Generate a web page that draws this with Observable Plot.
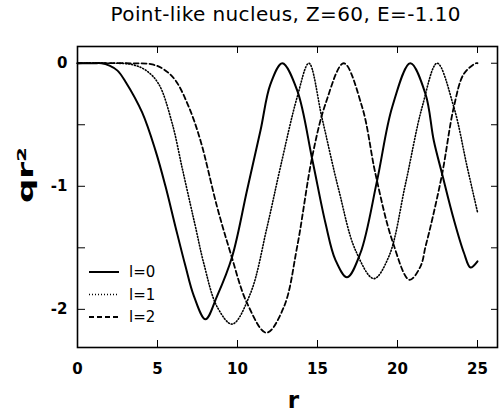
<!DOCTYPE html>
<html><head><meta charset="utf-8">
<script src="https://cdn.jsdelivr.net/npm/d3@7"></script>
<script src="https://cdn.jsdelivr.net/npm/@observablehq/plot@0.6"></script>
<style>html,body{margin:0;padding:0;background:#fff;} #chart{width:499px;height:413px;}</style>
</head><body><div id="chart"></div>
<script>
const title = "Point-like nucleus, Z=60, E=-1.10";
const seriesNames = ["l=0", "l=1", "l=2"];

const r0 = [0, 1, 1.5, 2.0, 2.5, 3.0, 4.04, 4.875, 5.5, 6.125, 6.75, 7.27, 8.0, 8.73, 9.67, 10.6, 11.44, 12.06, 12.8, 13.73, 14.67, 15.5, 16.125, 16.85, 17.69, 18.73, 19.67, 20.8, 21.75, 22.27, 22.79, 23.52, 24.15, 24.56, 25];
const q0 = [0, 0, 0, -0.02, -0.06, -0.15, -0.40, -0.71, -1.0, -1.33, -1.65, -1.89, -2.08, -1.89, -1.57, -1.03, -0.545, -0.17, 0, -0.22, -0.78, -1.30, -1.60, -1.74, -1.54, -0.95, -0.356, 0, -0.25, -0.63, -0.9, -1.27, -1.54, -1.66, -1.61];

const r1 = [0, 2, 3.4, 4.3, 5.08, 5.92, 6.54, 7.06, 7.375, 7.9, 8.73, 9.67, 10.81, 11.85, 12.69, 13.73, 14.46, 15.29, 16.33, 17.375, 18.52, 19.46, 20.5, 21.54, 22.48, 23.52, 24.35, 25];
const q1 = [0, 0, -0.01, -0.06, -0.17, -0.49, -0.85, -1.15, -1.33, -1.63, -1.98, -2.12, -1.87, -1.33, -0.84, -0.275, 0, -0.45, -1.03, -1.52, -1.75, -1.57, -0.98, -0.356, 0, -0.356, -0.84, -1.21];

const r2 = [0, 3, 4.67, 5.4, 6.125, 6.96, 7.69, 8.73, 9.56, 10.6, 11.81, 12.9, 13.73, 14.67, 15.5, 16.64, 17.79, 18.625, 19.67, 20.75, 21.44, 21.75, 22.06, 22.79, 23.52, 24.15, 24.9, 25];
const q2 = [0, 0, -0.01, -0.05, -0.14, -0.356, -0.63, -1.17, -1.54, -1.95, -2.19, -1.98, -1.49, -0.76, -0.33, 0, -0.356, -0.9, -1.44, -1.76, -1.65, -1.49, -1.33, -0.9, -0.356, -0.086, 0, 0];

const xTicks = [0, 5, 10, 15, 20, 25];
const yTicks = [0, -0.5, -1, -1.5, -2];
const yTickLabels = {"0": "0", "-1": "-1", "-2": "-2"};
const xLabel = "r";
const yLabel = "qr²";

const series = [[r0, q0], [r1, q1], [r2, q2]];
const rows = series.flatMap(([rs, qs], i) => rs.map((r, j) => ({r, q: qs[j], l: seriesNames[i]})));
const styles = [
  {dash: null, width: 2},
  {dash: "1,2", width: 1.6},
  {dash: "5,3", width: 1.8}
];

const lines = seriesNames.map((name, i) => Plot.line(rows.filter(d => d.l === name), {
  x: "r", y: "q", curve: "catmull-rom", stroke: "black",
  strokeWidth: styles[i].width, strokeDasharray: styles[i].dash
}));

const chart = Plot.plot({
  width: 499, height: 413,
  marginLeft: 77, marginRight: 2, marginTop: 46, marginBottom: 66,
  style: {fontFamily: "DejaVu Sans", fontSize: "15px", fontWeight: "bold", color: "black", background: "white"},
  x: {domain: [0, 26.25]},
  y: {domain: [-2.31, 0.136]},
  marks: [
    ...lines,
    Plot.axisX({anchor: "bottom", ticks: xTicks, tickSize: -7, tickPadding: 23, label: null, tickFormat: d => String(d)}),
    Plot.axisX({anchor: "top", ticks: xTicks, tickSize: -6, label: null, tickFormat: () => ""}),
    Plot.axisY({anchor: "left", ticks: yTicks, tickSize: -8, tickPadding: 18, label: null, tickFormat: d => yTickLabels[String(d)] ?? ""}),
    Plot.axisY({anchor: "right", ticks: yTicks, tickSize: -7, label: null, tickFormat: () => ""}),
    Plot.frame({stroke: "black", strokeWidth: 1.6}),
    Plot.text([title], {frameAnchor: "top", dy: -32, dx: -2, fontSize: 20, fontWeight: "normal", lineAnchor: "middle", className: "ttl"}),
    Plot.text([xLabel], {frameAnchor: "bottom", dy: 60, dx: 6, fontSize: 23, fontWeight: "bold", lineAnchor: "bottom"}),
    Plot.text([yLabel], {frameAnchor: "left", dx: -52, dy: 6, rotate: -90, fontSize: 22, fontWeight: "bold", className: "ylab"})
  ]
});
document.getElementById("chart").appendChild(chart);

const svg = d3.select(chart);
svg.selectAll(".ttl text").attr("textLength", 350).attr("lengthAdjust", "spacing");
svg.selectAll(".ylab text").attr("textLength", 56).attr("lengthAdjust", "spacingAndGlyphs");

// legend (inside the plot frame, lower left)
const leg = svg.append("g").attr("font-family", "DejaVu Sans").attr("font-size", 15)
  .attr("font-weight", "normal").attr("text-anchor", "start");
seriesNames.forEach((name, i) => {
  const y = 272 + i * 22.5;
  leg.append("line").attr("x1", 89).attr("x2", 119).attr("y1", y).attr("y2", y)
    .attr("stroke", "black").attr("stroke-width", styles[i].width)
    .attr("stroke-dasharray", styles[i].dash);
  leg.append("text").attr("x", 129).attr("y", y).attr("dy", "0.35em").text(name);
});
</script>
</body></html>
